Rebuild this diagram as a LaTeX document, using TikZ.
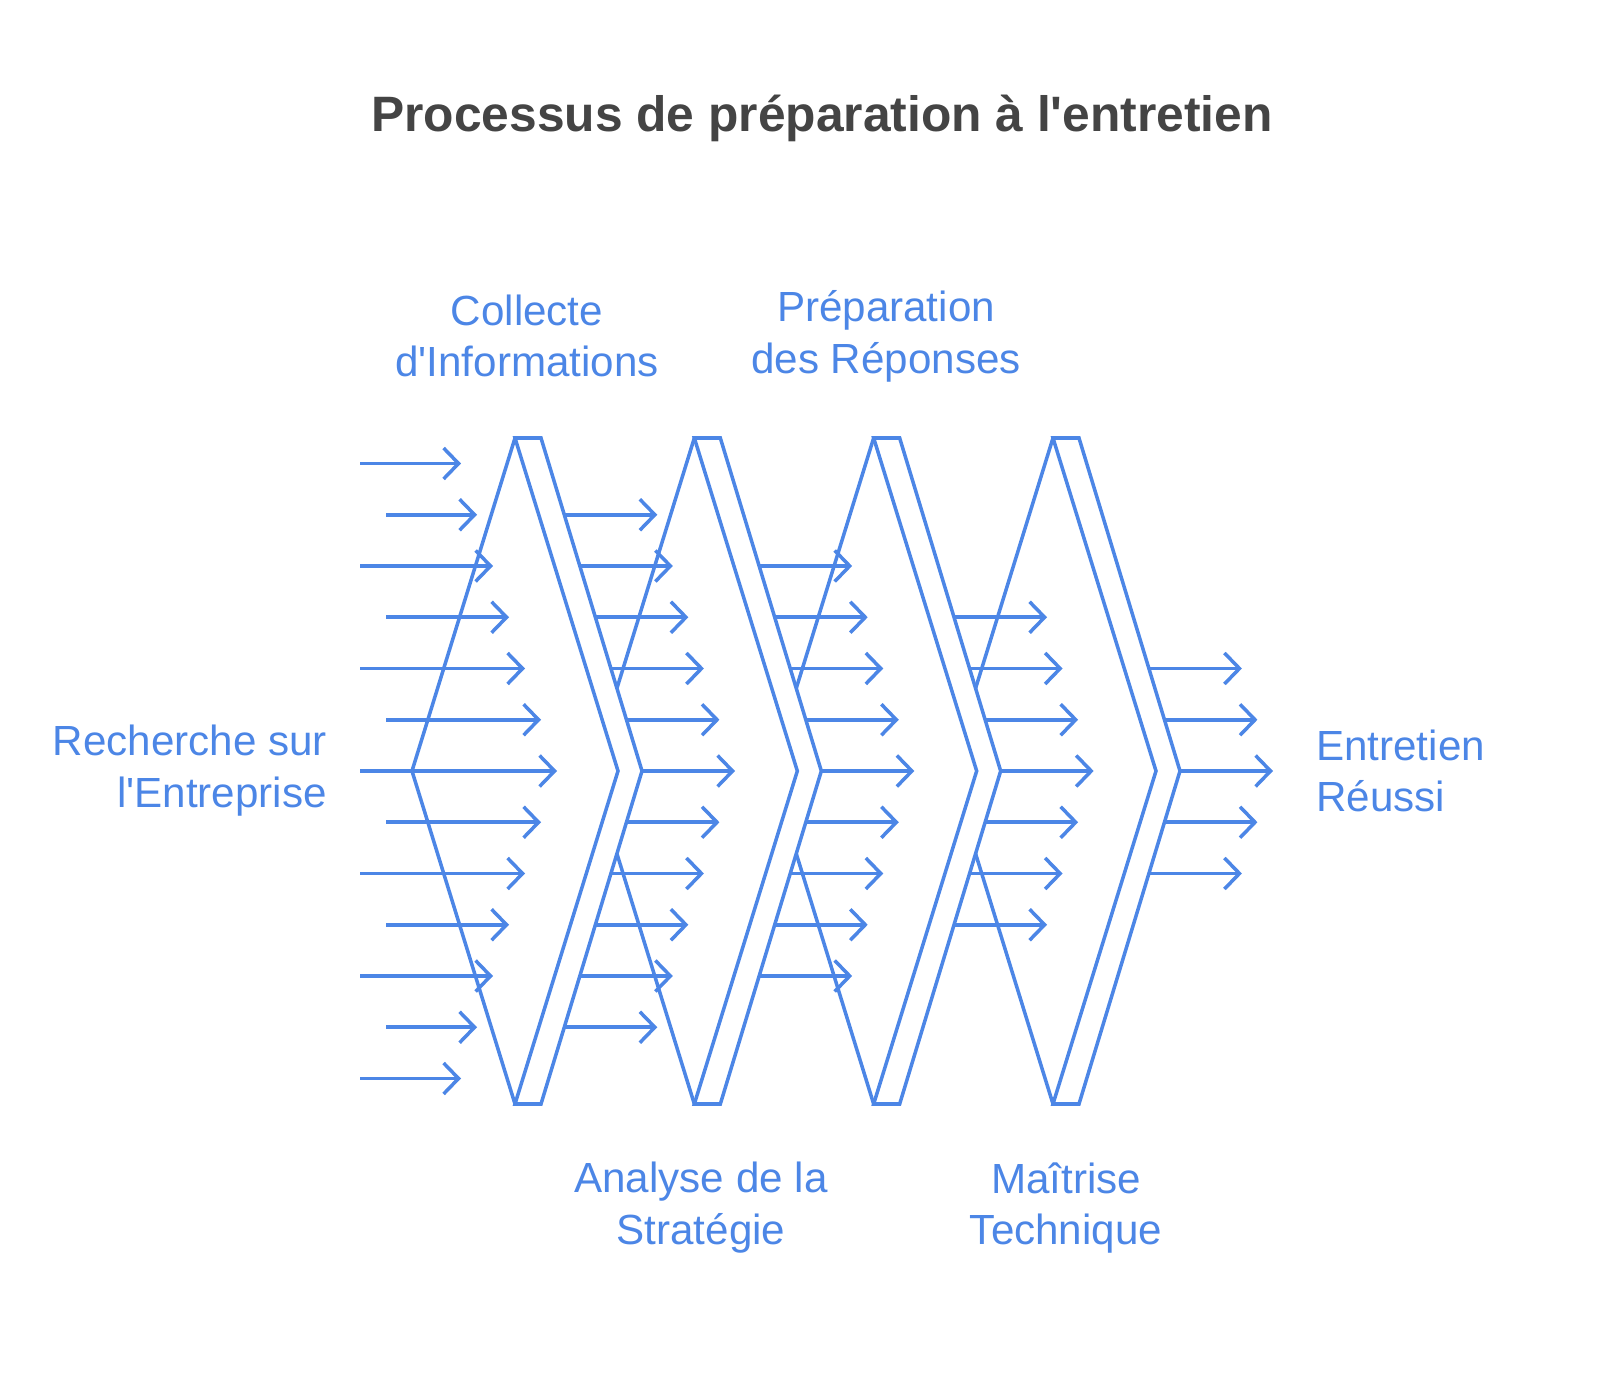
\documentclass[tikz,border=0pt]{standalone}
\usepackage{fontspec}
\setmainfont[Ligatures=NoCommon,Mapping=]{Liberation Sans}
\usetikzlibrary{arrows.meta}
\definecolor{bl}{RGB}{76,134,230}
\definecolor{tt}{RGB}{68,68,68}
\newcommand{\ap}{\textquotesingle}
\begin{document}
\begin{tikzpicture}[x=0.02cm,y=-0.02cm,
  ln/.style={draw=bl,line width=2pt,line join=miter},
  arr/.style={bl,line width=2pt,-{Straight Barb[length=0.3cm,width=0.62cm,line width=2pt]}},
  lab/.style={text=bl,font=\fontsize{24}{29.5}\selectfont,align=center}]
\useasboundingbox (0,0) rectangle (1600,1391);
\node[text=tt,font=\bfseries\fontsize{28.3}{32}\selectfont] (title) at (822,118) {Processus de préparation à l\ap entretien};
% chevrons
\foreach \i in {0,...,3}{
  \pgfmathsetmacro{\xl}{515+179.33*\i}
  \draw[ln] (\xl,438) -- (\xl+26,438) -- (\xl+127,771) -- (\xl+26,1104) -- (\xl,1104) -- (\xl+103,771) -- cycle;
  \ifnum\i=0
    \draw[ln] (\xl,438) -- (412,771) -- (\xl,1104);
  \else
    \draw[ln] (\xl,438) -- (\xl-77.4,688.3);
    \draw[ln] (\xl,1104) -- (\xl-77.4,853.7);
  \fi
}
% group 0 arrows
\foreach \k in {-6,...,6}{
  \pgfmathsetmacro{\y}{771+51.25*\k}
  \pgfmathtruncatemacro{\ev}{mod(abs(\k),2)}
  \pgfmathsetmacro{\xs}{\ev==0 ? 360 : 386}
  \pgfmathsetmacro{\xe}{557-16*abs(\k)}
  \draw[arr] (\xs,\y) -- (\xe,\y);
}
% groups 1..4
\foreach \g in {1,...,4}{
  \pgfmathtruncatemacro{\m}{6-\g}
  \foreach \k in {-\m,...,\m}{
    \pgfmathsetmacro{\y}{771+51.25*\k}
    \pgfmathsetmacro{\xs}{541+179.33*(\g-1)+101*(1-abs(\k)*51.25/333)}
    \draw[arr] (\xs,\y) -- (\xs+93,\y);
  }
}
\node[lab] (l1) at (527,336) {Collecte\\d\ap Informations};
\node[lab] (l2) at (886,336) {Préparation\\des Réponses};
\node[lab] (l3) at (701,1208) {Analyse de la\\Stratégie};
\node[lab] (l4) at (1066,1208) {Maîtrise\\Technique};
\node[lab,align=right,anchor=east] (l0) at (333,771) {Recherche sur\\l\ap Entreprise};
\node[lab,align=left,anchor=west] (l5) at (1310,771) {Entretien\\Réussi};
\end{tikzpicture}
\end{document}
